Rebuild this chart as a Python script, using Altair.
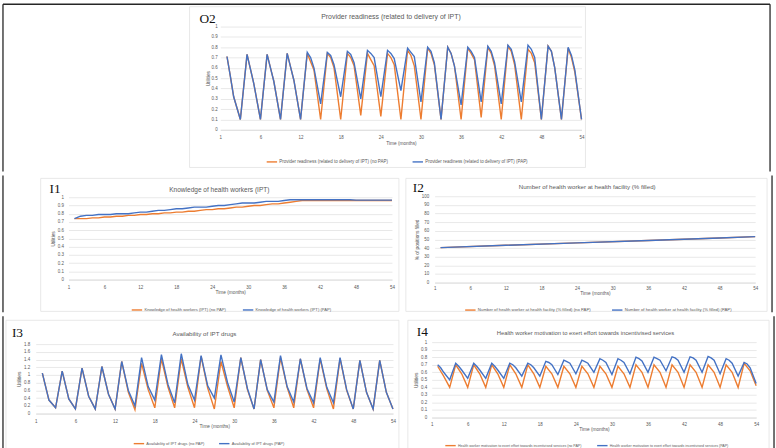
import altair as alt
import pandas as pd

ORANGE = "#ED7D31"
BLUE = "#4472C4"
GRID = "#D9D9D9"
TXT = "#595959"
FRAME = "#262626"
BOX = "#E2E2E2"
FONT = "Liberation Sans"
SERIF = "Liberation Serif"

MONTH_TICKS = [0, 6, 12, 18, 24, 30, 36, 42, 48, 54]
CYCLE_START = [1, 4, 7, 10, 13, 16, 19, 22, 25, 28, 31, 34, 37, 40, 43, 46, 49, 52]
UNIT_TICKS = [0, 0.1, 0.2, 0.3, 0.4, 0.5, 0.6, 0.7, 0.8, 0.9, 1]
DRUG_TICKS = [0, 0.2, 0.4, 0.6, 0.8, 1, 1.2, 1.4, 1.6, 1.8]
PCT_TICKS = [0, 10, 20, 30, 40, 50, 60, 70, 80, 90, 100]

# ---------------- O2: provider readiness ----------------
o2_labels = ["Provider readiness (related to delivery of IPT) (no PAP)",
             "Provider readiness (related to delivery of IPT) (PAP)"]
o2_pap_peak = [0.71, 0.73, 0.73, 0.74, 0.75, 0.75, 0.76, 0.77, 0.77, 0.79, 0.80, 0.80, 0.80, 0.81, 0.82, 0.82, 0.81, 0.80]
o2_pap_shoulder = [0.52, 0.59, 0.60, 0.61, 0.70, 0.72, 0.73, 0.74, 0.74, 0.75, 0.76, 0.74, 0.76, 0.76, 0.78, 0.78, 0.76, 0.72]
o2_pap_mid = [0.32, 0.45, 0.47, 0.48, 0.60, 0.63, 0.65, 0.70, 0.69, 0.71, 0.65, 0.62, 0.70, 0.65, 0.66, 0.70, 0.60, 0.58]
o2_pap_trough = [0.10, 0.10, 0.10, 0.10, 0.25, 0.32, 0.30, 0.32, 0.38, 0.27, 0.10, 0.24, 0.27, 0.25, 0.27, 0.10, 0.10, 0.10]
o2_no_peak = [0.71, 0.73, 0.73, 0.74, 0.74, 0.74, 0.74, 0.74, 0.74, 0.77, 0.79, 0.80, 0.79, 0.80, 0.81, 0.78, 0.81, 0.79]
o2_no_shoulder = [0.52, 0.59, 0.60, 0.61, 0.66, 0.70, 0.70, 0.68, 0.70, 0.72, 0.74, 0.74, 0.74, 0.74, 0.76, 0.74, 0.76, 0.70]
o2_no_mid = [0.32, 0.45, 0.47, 0.48, 0.58, 0.60, 0.62, 0.62, 0.63, 0.62, 0.63, 0.62, 0.68, 0.62, 0.63, 0.65, 0.60, 0.56]
o2_no_trough = [0.10, 0.10, 0.10, 0.10, 0.10, 0.10, 0.14, 0.13, 0.10, 0.10, 0.10, 0.10, 0.12, 0.10, 0.10, 0.10, 0.10, 0.10]

# ---------------- I1: knowledge of health workers ----------------
i1_labels = ["Knowledge of health workers (IPT) (no PAP)",
             "Knowledge of health workers (IPT) (PAP)"]
i1_months = list(range(1, 55))
i1_pap = [0.74, 0.77, 0.78, 0.78, 0.79, 0.79, 0.79, 0.80, 0.80, 0.80,
          0.81, 0.82, 0.82, 0.83, 0.84, 0.84, 0.85, 0.86, 0.86, 0.87,
          0.88, 0.88, 0.88, 0.89, 0.90, 0.90, 0.91, 0.92, 0.93, 0.93,
          0.93, 0.94, 0.95, 0.95, 0.95, 0.96, 0.97, 0.97, 0.97, 0.97,
          0.97, 0.97, 0.97, 0.97, 0.97, 0.97, 0.97, 0.965, 0.965, 0.965,
          0.965, 0.965, 0.965, 0.965]
i1_no = [0.74, 0.74, 0.74, 0.75, 0.75, 0.76, 0.76, 0.77, 0.77, 0.78,
         0.78, 0.79, 0.79, 0.80, 0.80, 0.81, 0.81, 0.82, 0.82, 0.83,
         0.83, 0.84, 0.85, 0.85, 0.86, 0.86, 0.87, 0.88, 0.88, 0.89,
         0.90, 0.90, 0.91, 0.92, 0.92, 0.93, 0.94, 0.95, 0.96, 0.96,
         0.96, 0.96, 0.96, 0.96, 0.96, 0.96, 0.96, 0.96, 0.96, 0.96,
         0.96, 0.96, 0.96, 0.96]

# ---------------- I2: number of health workers ----------------
i2_labels = ["Number of health worker at health facility (% filled) (no PAP)",
             "Number of health worker at health facility (% filled) (PAP)"]
i2_months = [1, 12, 24, 36, 48, 54]
i2_no = [40.5, 43.2, 46.0, 48.8, 51.7, 53.2]
i2_pap = [40.5, 43.2, 46.0, 48.8, 51.7, 53.2]

# ---------------- I3: availability of IPT drugs ----------------
i3_labels = ["Availability of IPT drugs (no PAP)", "Availability of IPT drugs (PAP)"]
i3_pap_peak = [1.05, 1.10, 1.18, 1.22, 1.35, 1.45, 1.53, 1.55, 1.50, 1.52, 1.45, 1.40, 1.50, 1.42, 1.45, 1.45, 1.38, 1.38]
i3_pap_mid = [0.35, 0.38, 0.45, 0.50, 0.60, 0.70, 0.75, 0.75, 0.72, 0.80, 0.65, 0.62, 0.70, 0.65, 0.68, 0.62, 0.55, 0.55]
i3_pap_trough = [0.15, 0.12, 0.12, 0.12, 0.20, 0.35, 0.28, 0.35, 0.40, 0.30, 0.12, 0.30, 0.30, 0.28, 0.28, 0.12, 0.12, 0.12]
i3_no_peak = [1.05, 1.10, 1.18, 1.22, 1.35, 1.30, 1.42, 1.42, 1.48, 1.35, 1.45, 1.40, 1.45, 1.42, 1.42, 1.43, 1.38, 1.38]
i3_no_mid = [0.35, 0.38, 0.45, 0.50, 0.55, 0.62, 0.68, 0.68, 0.66, 0.70, 0.62, 0.60, 0.68, 0.62, 0.64, 0.60, 0.55, 0.55]
i3_no_trough = [0.15, 0.12, 0.12, 0.12, 0.10, 0.15, 0.15, 0.15, 0.12, 0.15, 0.12, 0.15, 0.15, 0.15, 0.12, 0.12, 0.12, 0.12]

# ---------------- I4: health worker motivation ----------------
i4_labels = ["Health worker motivation to exert effort towards incentivised services (no PAP)",
             "Health worker motivation to exert effort towards incentivised services (PAP)"]
i4_pap_peak = [0.70, 0.72, 0.72, 0.72, 0.72, 0.72, 0.745, 0.76, 0.76, 0.78, 0.78, 0.80, 0.80, 0.805, 0.805, 0.81, 0.78, 0.73]
i4_pap_shoulder = [0.66, 0.68, 0.68, 0.68, 0.70, 0.70, 0.73, 0.74, 0.74, 0.76, 0.76, 0.78, 0.78, 0.79, 0.79, 0.79, 0.76, 0.71]
i4_pap_mid = [0.60, 0.63, 0.63, 0.63, 0.66, 0.66, 0.70, 0.72, 0.72, 0.73, 0.73, 0.75, 0.76, 0.76, 0.76, 0.76, 0.72, 0.66]
i4_pap_trough = [0.50, 0.52, 0.52, 0.52, 0.55, 0.55, 0.57, 0.58, 0.60, 0.57, 0.58, 0.60, 0.62, 0.60, 0.60, 0.58, 0.55, 0.45]
i4_no_peak = [0.68, 0.70, 0.70, 0.70, 0.70, 0.70, 0.68, 0.68, 0.68, 0.68, 0.68, 0.70, 0.70, 0.70, 0.70, 0.70, 0.70, 0.72]
i4_no_mid = [0.55, 0.58, 0.58, 0.58, 0.58, 0.58, 0.58, 0.58, 0.58, 0.58, 0.58, 0.60, 0.60, 0.60, 0.60, 0.60, 0.60, 0.62]
i4_no_trough = [0.40, 0.40, 0.40, 0.40, 0.40, 0.40, 0.40, 0.40, 0.40, 0.40, 0.40, 0.40, 0.40, 0.40, 0.40, 0.40, 0.40, 0.42]


def build_cycles(offsets, columns):
    months, values = [], []
    for i, start in enumerate(CYCLE_START):
        for off, col in zip(offsets, columns):
            months.append(start + off)
            values.append(col[i])
    return months, values


def make_df(labels, no_series, pap_series):
    rows = []
    for lab, (ms, vs) in zip(labels, [no_series, pap_series]):
        for m, v in zip(ms, vs):
            rows.append({"month": m, "value": v, "series": lab})
    return pd.DataFrame(rows)


def one_row(text=""):
    return pd.DataFrame({"t": [text]})


def panel(df, labels, c):
    """Each panel is a cell of the figure; the plot sits inside it via scale ranges."""
    CW, CH = c["cell"]
    x0, x1 = c["xr"]
    ytop, ybot = c["yr"]
    layers = []
    layers.append(alt.Chart(one_row()).mark_rect(opacity=0).encode(
        x=alt.value(0), x2=alt.value(CW), y=alt.value(0), y2=alt.value(CH)))
    bx = c["box"]
    layers.append(alt.Chart(one_row()).mark_rect(filled=False, stroke=BOX, strokeWidth=0.8).encode(
        x=alt.value(bx[0]), x2=alt.value(bx[2]), y=alt.value(bx[1]), y2=alt.value(bx[3])))
    for (a1, b1, a2, b2) in c["frame"]:
        layers.append(alt.Chart(one_row()).mark_rule(stroke=FRAME, strokeWidth=1.3).encode(
            x=alt.value(a1), x2=alt.value(a2), y=alt.value(b1), y2=alt.value(b2)))

    xenc = alt.X("month:Q", scale=alt.Scale(domain=[0, 54], range=[x0, x1], nice=False, zero=False),
                 axis=alt.Axis(values=MONTH_TICKS, labelExpr="datum.value == 0 ? '1' : datum.label",
                               title="Time (months)", grid=False, ticks=False, domain=True,
                               domainColor=GRID, domainWidth=0.8, labelPadding=c["xlp"],
                               titlePadding=c["xtp"], labelFlush=False, labelOverlap=False,
                               offset=ybot - CH))
    yenc = alt.Y("value:Q", scale=alt.Scale(domain=c["ydomain"], range=[ybot, ytop], nice=False, zero=True),
                 axis=alt.Axis(values=c["yticks"], labelExpr="'' + datum.value", title=c["ytitle"],
                               grid=True, gridColor=GRID, gridWidth=0.6, ticks=False, domain=False,
                               labelPadding=c["ylp"], titlePadding=c["ytp"], labelFlush=False,
                               labelOverlap=False, offset=-x0))
    cenc = alt.Color("series:N", scale=alt.Scale(domain=labels, range=[ORANGE, BLUE]),
                     legend=alt.Legend(title=None, orient="none", legendX=c["lx"], legendY=c["ly"],
                                       direction="horizontal", symbolType="stroke",
                                       symbolStrokeWidth=1.4, symbolSize=110, labelOffset=1.5,
                                       labelFontSize=c["lfs"], columnPadding=c["lcp"],
                                       labelLimit=600, labelColor=TXT, labelFont=FONT))
    base = alt.Chart(df).mark_line(strokeWidth=1.4).encode(x=xenc, y=yenc, color=cenc)
    layers.append(base.transform_filter(alt.datum.series == labels[0]))
    layers.append(base.transform_filter(alt.datum.series == labels[1]))

    layers.append(alt.Chart(one_row(c["title"])).mark_text(
        font=FONT, fontSize=c["tfs"], color=TXT, align="center", baseline="middle").encode(
        x=alt.value(c["tx"]), y=alt.value(c["ty"]), text="t:N"))
    layers.append(alt.Chart(one_row(c["letter"])).mark_text(
        font=SERIF, fontSize=13.5, color="#111111", align="left", baseline="alphabetic").encode(
        x=alt.value(c["lex"]), y=alt.value(c["ley"]), text="t:N"))
    return alt.layer(*layers).properties(width=CW, height=CH)


o2_df = make_df(o2_labels,
                build_cycles([0, 0.5, 1, 2], [o2_no_peak, o2_no_shoulder, o2_no_mid, o2_no_trough]),
                build_cycles([0, 0.5, 1, 2], [o2_pap_peak, o2_pap_shoulder, o2_pap_mid, o2_pap_trough]))
i1_df = make_df(i1_labels, (i1_months, i1_no), (i1_months, i1_pap))
i2_df = make_df(i2_labels, (i2_months, i2_no), (i2_months, i2_pap))
i3_df = make_df(i3_labels,
                build_cycles([0, 1, 2], [i3_no_peak, i3_no_mid, i3_no_trough]),
                build_cycles([0, 1, 2], [i3_pap_peak, i3_pap_mid, i3_pap_trough]))
i4_df = make_df(i4_labels,
                build_cycles([0, 1, 2], [i4_no_peak, i4_no_mid, i4_no_trough]),
                build_cycles([0, 0.5, 1, 2], [i4_pap_peak, i4_pap_shoulder, i4_pap_mid, i4_pap_trough]))

o2 = panel(o2_df, o2_labels, dict(
    cell=(776, 170), xr=(221, 585), yr=(24, 128),
    box=(190, 4, 589, 166), frame=[(2, 1.5, 775, 1.5), (2, 1.5, 2, 170), (775, 1.5, 775, 170)],
    ydomain=[0, 1], yticks=UNIT_TICKS, ytitle="Utilities",
    xlp=5, xtp=1.5, ylp=3, ytp=1,
    lx=267, ly=154.3, lfs=4.5, lcp=20,
    title="Provider readiness (related to delivery of IPT)", tfs=7, tx=393, ty=14,
    letter="O2", lex=200, ley=20.5))

i1 = panel(i1_df, i1_labels, dict(
    cell=(404, 138), xr=(68, 394), yr=(22, 105),
    box=(40, 3, 401, 137), frame=[(2, 0, 2, 138)],
    ydomain=[0, 1], yticks=UNIT_TICKS, ytitle="Utilities",
    xlp=5, xtp=0.5, ylp=5, ytp=2,
    lx=131, ly=129.5, lfs=4.2, lcp=13,
    title="Knowledge of health workers (IPT)", tfs=6.6, tx=220, ty=15,
    letter="I1", lex=49, ley=17.5))

i2 = panel(i2_df, i2_labels, dict(
    cell=(372, 138), xr=(31, 354), yr=(21, 108),
    box=(2, 3, 366, 137), frame=[(371, 0, 371, 138)],
    ydomain=[0, 100], yticks=PCT_TICKS, ytitle="% of positions filled",
    xlp=3, xtp=0.5, ylp=6, ytp=2,
    lx=61, ly=129.6, lfs=4.3, lcp=17,
    title="Number of health worker at health facility (% filled)", tfs=6.2, tx=184.7, ty=11.7,
    letter="I2", lex=9, ley=17))

i3 = panel(i3_df, i3_labels, dict(
    cell=(404, 140), xr=(35, 395), yr=(28, 98),
    box=(5, 4, 401, 135), frame=[(2, 0, 2, 138.5), (2, 138.5, 404, 138.5)],
    ydomain=[0, 1.8], yticks=DRUG_TICKS, ytitle="Utilities",
    xlp=5, xtp=0.5, ylp=6, ytp=2,
    lx=133, ly=122.2, lfs=4.0, lcp=10,
    title="Availability of IPT drugs", tfs=6.2, tx=205, ty=17.7,
    letter="I3", lex=11, ley=20.5))

i4 = panel(i4_df, i4_labels, dict(
    cell=(372, 140), xr=(26, 353), yr=(26, 102),
    box=(2, 4, 366, 135), frame=[(371, 0, 371, 138.5), (0, 138.5, 371, 138.5)],
    ydomain=[0, 1], yticks=UNIT_TICKS, ytitle="Utilities",
    xlp=4, xtp=0.5, ylp=5, ytp=2,
    lx=39, ly=124.2, lfs=3.6, lcp=11,
    title="Health worker motivation to exert effort towards incentivised services", tfs=5.9,
    tx=181, ty=17, letter="I4", lex=11, ley=20))

row2 = alt.hconcat(i1, i2, spacing=0).resolve_scale(color="independent")
row3 = alt.hconcat(i3, i4, spacing=0).resolve_scale(color="independent")
chart = (alt.vconcat(o2, row2, row3, spacing=0)
         .resolve_scale(color="independent")
         .properties(padding=0, background="white")
         .configure_view(stroke="transparent")
         .configure_axis(labelFont=FONT, titleFont=FONT, labelColor=TXT, titleColor=TXT,
                         labelFontSize=4.5, titleFontSize=4.8, titleFontWeight="normal"))

chart.save("out.html", embed_options={"renderer": "svg", "actions": False})
